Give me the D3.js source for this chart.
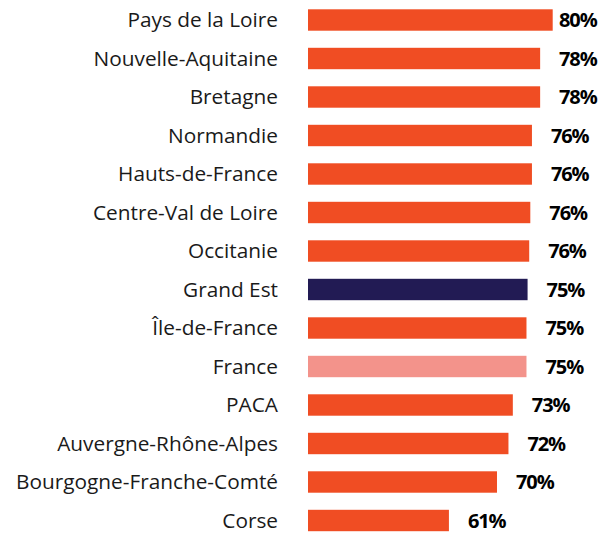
<!DOCTYPE html>
<html lang="fr">
<head>
    <meta charset="UTF-8">
    <title>Régions</title>
    <script src="https://d3js.org/d3.v7.min.js"></script>
    <style>
        body {
            margin: 0;
            background-color: white;
        }
        .region-label {
            font-family: 'Open Sans', sans-serif;
            font-size: 20.8px;
            fill: #1a1a1a;
        }
        .value-label {
            font-family: 'Open Sans', sans-serif;
            font-weight: bold;
            font-size: 20px;
            letter-spacing: -1.1px;
            fill: #000;
        }
    </style>
</head>
<body>
    <div id="chart"></div>

    <script>
        // Data
        const regions = [
            "Pays de la Loire", "Nouvelle-Aquitaine", "Bretagne", "Normandie",
            "Hauts-de-France", "Centre-Val de Loire", "Occitanie", "Grand Est",
            "Île-de-France", "France", "PACA", "Auvergne-Rhône-Alpes",
            "Bourgogne-Franche-Comté", "Corse"
        ];
        const values = [80.0, 77.7, 77.7, 76.2, 76.2, 75.9, 75.7, 75.4, 75.2, 75.2, 72.7, 71.9, 69.8, 61.0];
        const valueLabels = ["80%", "78%", "78%", "76%", "76%", "76%", "76%", "75%", "75%", "75%", "73%", "72%", "70%", "61%"];
        const highlight = { "Grand Est": "#221b54", "France": "#f3938b" };

        const width = 600;
        const height = 533;

        const svg = d3.select("#chart")
            .append("svg")
            .attr("width", width)
            .attr("height", height);

        const x = d3.scaleLinear()
            .domain([35.2, 80])
            .range([308, 552.7]);

        const y = d3.scaleBand()
            .domain(regions)
            .range([0.75, 539.75])
            .paddingInner(0.444)
            .paddingOuter(0.222);

        const data = regions.map((r, i) => ({ region: r, value: values[i], label: valueLabels[i] }));

        // Bars
        svg.selectAll("rect")
            .data(data)
            .enter()
            .append("rect")
            .attr("x", x(35.2))
            .attr("y", d => y(d.region))
            .attr("width", d => x(d.value) - x(35.2))
            .attr("height", y.bandwidth())
            .attr("fill", d => highlight[d.region] || "#f04d23");

        // Region names
        svg.selectAll(".region-label")
            .data(data)
            .enter()
            .append("text")
            .attr("class", "region-label")
            .attr("x", 278)
            .attr("y", d => y(d.region) + y.bandwidth() / 2)
            .attr("dy", "0.36em")
            .attr("text-anchor", "end")
            .text(d => d.region);

        // Value labels
        svg.selectAll(".value-label")
            .data(data)
            .enter()
            .append("text")
            .attr("class", "value-label")
            .attr("x", d => Math.min(x(d.value) + 19, 559))
            .attr("y", d => y(d.region) + y.bandwidth() / 2)
            .attr("dy", "0.37em")
            .text(d => d.label);
    </script>
</body>
</html>
